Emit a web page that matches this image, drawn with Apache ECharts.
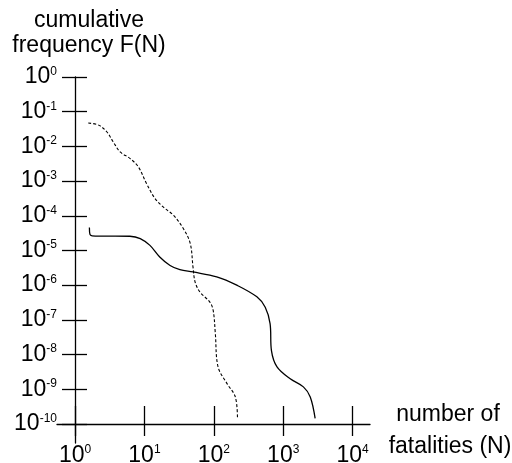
<!DOCTYPE html>
<html>
<head>
<meta charset="utf-8">
<script src="https://cdn.jsdelivr.net/npm/echarts@6/dist/echarts.min.js"></script>
<style>
html,body{margin:0;padding:0;background:#fff;}
#c{width:512px;height:463px;}
</style>
</head>
<body>
<div id="c"></div>
<script>
// Tick values (decades)
var xTicks = [1, 10, 100, 1000, 10000];
var yTicks = [1, 1e-1, 1e-2, 1e-3, 1e-4, 1e-5, 1e-6, 1e-7, 1e-8, 1e-9, 1e-10];

// Solid curve: [N, F(N)]
var solidN = [1.61, 1.64, 1.76, 2.29, 3.77, 6.17, 8.7, 12.0, 16.6, 23.4, 32.4, 50, 110, 214, 417, 550, 646, 676, 813, 1260, 1950, 2450, 2880];
var solidF = [4.6e-5, 2.9e-5, 2.65e-5, 2.6e-5, 2.6e-5, 2.57e-5, 2.2e-5, 1.4e-5, 6.5e-6, 3.7e-6, 2.8e-6, 2.4e-6, 1.74e-6, 1.0e-6, 4.6e-7, 2.3e-7, 7.8e-8, 1.3e-8, 4.4e-9, 2.0e-9, 1.17e-9, 6.0e-10, 1.45e-10];

// Dashed curve: [N, F(N)]
var dashN = [1.55, 2.19, 2.88, 3.55, 4.47, 6.17, 8.13, 10.7, 14.1, 18.6, 26.3, 36.3, 45.7, 50.1, 53.7, 63.1, 87.1, 97.7, 105, 115, 155, 204, 219];
var dashF = [4.7e-2, 4.1e-2, 2.6e-2, 1.35e-2, 6.9e-3, 4.5e-3, 2.6e-3, 8.5e-4, 3.2e-4, 1.8e-4, 1.02e-4, 4.3e-5, 1.6e-5, 3.3e-6, 1.23e-6, 6.3e-7, 3.3e-7, 1.9e-7, 4.1e-8, 4.4e-9, 1.45e-9, 6.0e-10, 1.45e-10];

var FONT = '"Liberation Sans", Arial, sans-serif';

function zip(a, b) { return a.map(function (v, i) { return [v, b[i]]; }); }

function powLabel(v) {
  var e = Math.round(Math.log10(v));
  return '{b|10}{s|' + e + '}';
}
var rich = {
  b: { fontSize: 23, fontFamily: FONT, color: '#000', lineHeight: 23 },
  s: { fontSize: 12, fontFamily: FONT, color: '#000', lineHeight: 16, verticalAlign: 'top' }
};

var X_MIN = 0.5495, X_MAX = 17783;
var Y_MIN = Math.pow(10, -10.55), Y_MAX = 1;

var chart = echarts.init(document.getElementById('c'), null, { renderer: 'canvas' });
chart.setOption({
  animation: false,
  backgroundColor: '#fff',
  grid: { left: 57, right: 142, top: 77, bottom: 20, containLabel: false, outerBoundsMode: 'none' },
  xAxis: [{
    type: 'log', logBase: 10, min: X_MIN, max: X_MAX, offset: -19,
    axisLine: { show: true, onZero: false, lineStyle: { color: '#000', width: 1.3 } },
    axisTick: { show: true, customValues: xTicks, length: 12, lineStyle: { color: '#000', width: 1.3 } },
    axisLabel: { show: true, customValues: xTicks, margin: 20, formatter: powLabel, rich: rich },
    splitLine: { show: false }, minorTick: { show: false }
  }, {
    type: 'log', logBase: 10, min: X_MIN, max: X_MAX, offset: -19, position: 'bottom',
    axisLine: { show: false, onZero: false },
    axisTick: { show: true, inside: true, customValues: xTicks, length: 18, lineStyle: { color: '#000', width: 1.3 } },
    axisLabel: { show: false },
    splitLine: { show: false }
  }],
  yAxis: [{
    type: 'log', logBase: 10, min: Y_MIN, max: Y_MAX, position: 'left', offset: -18,
    axisLine: { show: true, onZero: false, lineStyle: { color: '#000', width: 1.3 } },
    axisTick: { show: true, customValues: yTicks, length: 13, lineStyle: { color: '#000', width: 1.3 } },
    axisLabel: { show: true, customValues: yTicks, margin: 18, formatter: powLabel, rich: rich },
    splitLine: { show: false }, minorTick: { show: false }
  }, {
    type: 'log', logBase: 10, min: Y_MIN, max: Y_MAX, position: 'left', offset: -18,
    axisLine: { show: false, onZero: false },
    axisTick: { show: true, inside: true, customValues: yTicks, length: 12, lineStyle: { color: '#000', width: 1.3 } },
    axisLabel: { show: false },
    splitLine: { show: false }
  }],
  graphic: [
    { type: 'text', x: 89, y: 21, style: { text: 'cumulative', font: '23px ' + FONT, fill: '#000', textAlign: 'center', textVerticalAlign: 'middle' } },
    { type: 'text', x: 89, y: 46, style: { text: 'frequency F(N)', font: '23px ' + FONT, fill: '#000', textAlign: 'center', textVerticalAlign: 'middle' } },
    { type: 'text', x: 448, y: 414.5, style: { text: 'number of', font: '23px ' + FONT, fill: '#000', textAlign: 'center', textVerticalAlign: 'middle' } },
    { type: 'text', x: 450, y: 446.5, style: { text: 'fatalities (N)', font: '23px ' + FONT, fill: '#000', textAlign: 'center', textVerticalAlign: 'middle' } }
  ],
  series: [{
    type: 'line', xAxisIndex: 0, yAxisIndex: 0, data: zip(solidN, solidF),
    smooth: 0.35, symbol: 'none',
    lineStyle: { color: '#000', width: 1.3, type: 'solid' }
  }, {
    type: 'line', xAxisIndex: 0, yAxisIndex: 0, data: zip(dashN, dashF),
    smooth: 0.35, symbol: 'none',
    lineStyle: { color: '#000', width: 1.1, type: [3, 2] }
  }]
});
</script>
</body>
</html>
